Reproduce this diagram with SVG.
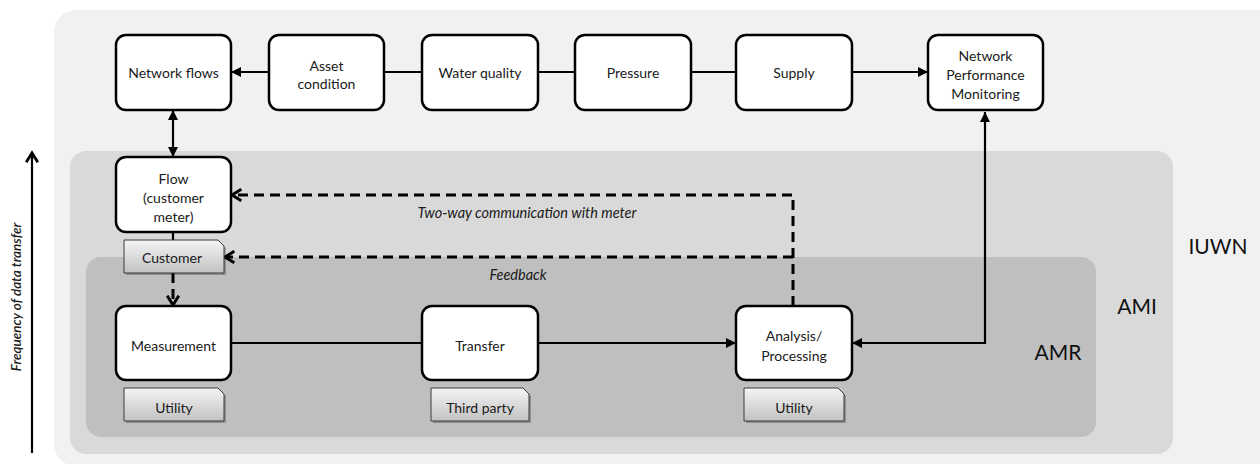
<svg xmlns="http://www.w3.org/2000/svg" width="1260" height="464" viewBox="0 0 1260 464">
<defs>
<linearGradient id="tagGrad" x1="0" y1="0" x2="0" y2="1">
<stop offset="0" stop-color="#f4f4f4"/>
<stop offset="1" stop-color="#c2c2c2"/>
</linearGradient>
<marker id="arr" markerUnits="userSpaceOnUse" markerWidth="10" markerHeight="10" refX="8" refY="4" orient="auto-start-reverse" viewBox="0 0 8 8">
<path d="M0,0 L8,4 L0,8 z" fill="#000"/>
</marker>
<marker id="chev" markerUnits="userSpaceOnUse" markerWidth="14" markerHeight="14" refX="9" refY="6" orient="auto" viewBox="0 0 12 12">
<path d="M1,1 L9,6 L1,11" fill="none" stroke="#000" stroke-width="2.5"/>
</marker>
</defs>
<style>
.node{fill:#fff;stroke:#000;stroke-width:2.5}
.txt{font-family:Lato,"Open Sans","Liberation Sans",sans-serif;font-size:14px;fill:#1a1a1a;text-anchor:middle;dominant-baseline:central}
.tag{fill:url(#tagGrad);stroke:#3a3a3a;stroke-width:1}
.tagsh{fill:#000;opacity:0.25}
.solid{fill:none;stroke:#000;stroke-width:2.2}
.dash{fill:none;stroke:#000;stroke-width:3;stroke-dasharray:10 6}
.ital{font-family:Lato,"Open Sans","Liberation Sans",sans-serif;font-size:14.5px;font-style:italic;fill:#1a1a1a;text-anchor:middle;dominant-baseline:central}
.axislbl{font-family:Lato,"Open Sans","Liberation Sans",sans-serif;font-size:13.5px;font-style:italic;font-weight:600;fill:#1a1a1a;text-anchor:middle;dominant-baseline:central}
.zone{font-family:Lato,"Open Sans","Liberation Sans",sans-serif;font-size:21px;fill:#111;text-anchor:middle;dominant-baseline:central}
</style>

<g id="zones">
<rect x="54" y="10" width="1226" height="456" rx="22" fill="#f1f1f1"/>
<rect x="70" y="151" width="1103" height="303" rx="16" fill="#d9d9d9"/>
<rect x="86" y="257" width="1010" height="180" rx="15" fill="#bfbfbf"/>
<text class="zone" x="1218" y="245">IUWN</text>
<text class="zone" x="1137" y="305">AMI</text>
<text class="zone" x="1058" y="351">AMR</text>
</g>

<g id="axis">
<path d="M32,453 V153" class="solid" stroke-width="2.5" marker-end="url(#chev)"/>
<text class="axislbl" transform="translate(16,297) rotate(-90)" x="0" y="0">Frequency of data transfer</text>
</g>

<g id="connectors">
<path class="solid" d="M269,72 H231" marker-end="url(#arr)"/>
<path class="solid" d="M384,72 H422"/>
<path class="solid" d="M538,72 H575"/>
<path class="solid" d="M691,72 H736"/>
<path class="solid" d="M852,72 H928" marker-end="url(#arr)"/>
<path class="solid" d="M173,110 V157" marker-start="url(#arr)" marker-end="url(#arr)"/>
<path class="solid" d="M173,232 V240" stroke-width="2.5"/>
<path class="dash" d="M173,273 V305" marker-end="url(#chev)"/>
<path class="solid" d="M231,343 H422"/>
<path class="solid" d="M538,343 H736" marker-end="url(#arr)"/>
<path class="solid" d="M985,112 V343 H852" marker-start="url(#arr)" marker-end="url(#arr)"/>
<path class="dash" d="M793,306 V195 H232" marker-end="url(#chev)"/>
<path class="dash" d="M793,257 H225" marker-end="url(#chev)"/>
<text class="ital" x="527" y="212">Two-way communication with meter</text>
<text class="ital" x="518" y="274">Feedback</text>
</g>

<g id="network-flows">
<rect class="node" x="116" y="35" width="115" height="75" rx="10"/>
<text class="txt" x="173.5" y="72">Network flows</text>
</g>
<g id="asset-condition">
<rect class="node" x="269" y="35" width="115" height="75" rx="10"/>
<text class="txt" x="326.5" y="65">Asset</text>
<text class="txt" x="326.5" y="83">condition</text>
</g>
<g id="water-quality">
<rect class="node" x="422" y="35" width="116" height="75" rx="10"/>
<text class="txt" x="480" y="72">Water quality</text>
</g>
<g id="pressure">
<rect class="node" x="575" y="35" width="116" height="75" rx="10"/>
<text class="txt" x="633" y="72">Pressure</text>
</g>
<g id="supply">
<rect class="node" x="736" y="35" width="116" height="75" rx="10"/>
<text class="txt" x="794" y="72">Supply</text>
</g>
<g id="network-performance-monitoring">
<rect class="node" x="928" y="35" width="115" height="75" rx="10"/>
<text class="txt" x="985.5" y="55">Network</text>
<text class="txt" x="985.5" y="74">Performance</text>
<text class="txt" x="985.5" y="93">Monitoring</text>
</g>
<g id="flow-customer-meter">
<rect class="node" x="116" y="157" width="115" height="75" rx="10"/>
<text class="txt" x="173.5" y="178">Flow</text>
<text class="txt" x="173.5" y="197">(customer</text>
<text class="txt" x="173.5" y="216">meter)</text>
</g>
<g id="customer-tag">
<path class="tagsh" d="M126,242 H220 L226,248 V275 H126 z"/>
<path class="tag" d="M124,240 H218 L224,246 V273 H124 z"/>
<text class="txt" x="172" y="257">Customer</text>
</g>
<g id="measurement">
<rect class="node" x="116" y="306" width="115" height="74" rx="10"/>
<text class="txt" x="173.5" y="345">Measurement</text>
</g>
<g id="utility-1">
<path class="tagsh" d="M126,390 H220 L226,396 V423 H126 z"/>
<path class="tag" d="M124,388 H218 L224,394 V421 H124 z"/>
<text class="txt" x="174" y="407">Utility</text>
</g>
<g id="transfer">
<rect class="node" x="422" y="306" width="116" height="74" rx="10"/>
<text class="txt" x="480" y="345">Transfer</text>
</g>
<g id="third-party">
<path class="tagsh" d="M433,390 H525 L531,396 V423 H433 z"/>
<path class="tag" d="M431,388 H523 L529,394 V421 H431 z"/>
<text class="txt" x="480" y="407">Third party</text>
</g>
<g id="analysis-processing">
<rect class="node" x="736" y="306" width="116" height="74" rx="10"/>
<text class="txt" x="794" y="335">Analysis/</text>
<text class="txt" x="794" y="355">Processing</text>
</g>
<g id="utility-2">
<path class="tagsh" d="M746,390 H840 L846,396 V423 H746 z"/>
<path class="tag" d="M744,388 H838 L844,394 V421 H744 z"/>
<text class="txt" x="794" y="407">Utility</text>
</g>
</svg>
